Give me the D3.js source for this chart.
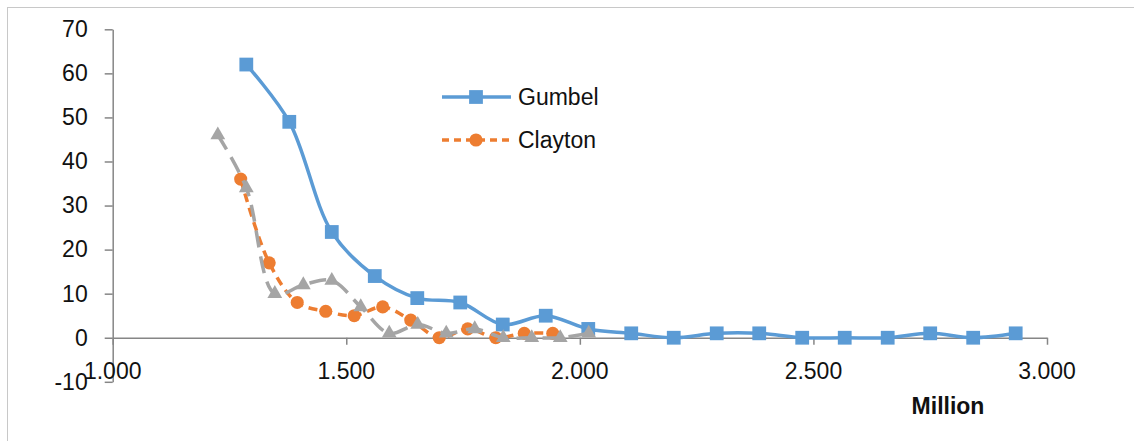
<!DOCTYPE html>
<html>
<head>
<meta charset="utf-8">
<script src="https://cdn.jsdelivr.net/npm/d3@7"></script>
<style>
  html, body { margin: 0; padding: 0; background: #fff; }
  svg { display: block; }
  text { font-family: "Liberation Sans", Arial, sans-serif; }
</style>
</head>
<body>
<svg id="chart" width="1134" height="441"></svg>
<script>
// ---- data ----
const gumbelX = [1.286, 1.378, 1.469, 1.561, 1.652, 1.744, 1.835, 1.927, 2.018, 2.110,
                 2.201, 2.293, 2.384, 2.476, 2.567, 2.659, 2.750, 2.842, 2.933];
const gumbelY = [62, 49, 24, 14, 9, 8, 3, 5, 2, 1, 0, 1, 1, 0, 0, 0, 1, 0, 1];

const claytonX = [1.274, 1.335, 1.395, 1.456, 1.517, 1.578, 1.638, 1.699, 1.760, 1.820, 1.881, 1.942];
const claytonY = [36, 17, 8, 6, 5, 7, 4, 0, 2, 0, 1, 1];

const thirdX = [1.225, 1.286, 1.347, 1.408, 1.469, 1.531, 1.592, 1.653, 1.714, 1.775, 1.836, 1.897, 1.958, 2.019];
const thirdY = [46, 34, 10, 12, 13, 7, 1, 3, 1, 2, 0, 0, 0, 1];

const xTicks = [1.0, 1.5, 2.0, 2.5, 3.0];
const xTickLabels = ["1.000", "1.500", "2.000", "2.500", "3.000"];
const yTicks = [-10, 0, 10, 20, 30, 40, 50, 60, 70];
const yTickLabels = ["-10", "0", "10", "20", "30", "40", "50", "60", "70"];
const xTitle = "Million";
const legendNames = ["Gumbel", "Clayton"];

// ---- drawing ----
const svg = d3.select("#chart");
const FONT = 23;
const axisColor = "#868686";

// chart border (right/bottom off-canvas)
svg.append("rect").attr("x", 7.5).attr("y", 7.5).attr("width", 1200).attr("height", 500)
  .attr("fill", "none").attr("stroke", "#c8c8c8").attr("stroke-width", 1);

const x = d3.scaleLinear().domain([1, 3]).range([112.7, 1047]);
const y = d3.scaleLinear().domain([-10, 70]).range([381.8, 29.3]);

// y axis
const yAxis = svg.append("g").attr("transform", `translate(${x(1)},0)`)
  .call(d3.axisLeft(y).tickValues(yTicks).tickSize(8).tickPadding(17).tickSizeOuter(0)
    .tickFormat((d, i) => yTickLabels[i]));
yAxis.select(".domain").attr("stroke", axisColor).attr("stroke-width", 1.5);
yAxis.selectAll(".tick line").attr("stroke", axisColor).attr("stroke-width", 1.5);
yAxis.selectAll(".tick text").attr("font-size", FONT).attr("fill", "#111")
  .attr("font-family", "Liberation Sans, Arial, sans-serif");

// x axis at y = 0
const xAxis = svg.append("g").attr("transform", `translate(0,${y(0)})`)
  .call(d3.axisBottom(x).tickValues(xTicks).tickSize(7).tickSizeOuter(0).tickFormat(""));
xAxis.select(".domain").attr("stroke", axisColor).attr("stroke-width", 1.5);
xAxis.selectAll(".tick line").attr("stroke", axisColor).attr("stroke-width", 1.5);

// x tick labels at low position
svg.append("g").selectAll("text").data(xTicks).join("text")
  .attr("x", d => x(d)).attr("y", 379)
  .attr("text-anchor", "middle").attr("font-size", FONT).attr("fill", "#111")
  .text((d, i) => xTickLabels[i]);

// x title
svg.append("text").attr("x", 948).attr("y", 414).attr("text-anchor", "middle")
  .attr("font-size", FONT).attr("font-weight", "bold").attr("fill", "#111").text(xTitle);

const curve = d3.curveCatmullRom.alpha(0.5);
const line = d3.line().x(d => x(d[0])).y(d => y(d[1])).curve(curve);

const series = [
  { xs: gumbelX, ys: gumbelY, color: "#5B9BD5", dash: null, sym: d3.symbolSquare, size: 190 },
  { xs: claytonX, ys: claytonY, color: "#ED7D31", dash: "9,6", sym: d3.symbolCircle, size: 135 },
  { xs: thirdX, ys: thirdY, color: "#A5A5A5", dash: "17,9", sym: d3.symbolTriangle, size: 95 }
];

series.forEach(s => {
  const pts = s.xs.map((v, i) => [v, s.ys[i]]);
  svg.append("path").datum(pts).attr("d", line)
    .attr("fill", "none").attr("stroke", s.color).attr("stroke-width", 3.5)
    .attr("stroke-dasharray", s.dash);
  svg.append("g").selectAll("path").data(pts).join("path")
    .attr("transform", d => `translate(${x(d[0])},${y(d[1])})`)
    .attr("d", d3.symbol().type(s.sym).size(s.size))
    .attr("fill", s.color);
});

// legend
const legendY = [97, 140];
legendNames.forEach((name, i) => {
  const s = series[i];
  const g = svg.append("g");
  g.append("line").attr("x1", 442).attr("x2", 511).attr("y1", legendY[i]).attr("y2", legendY[i])
    .attr("stroke", s.color).attr("stroke-width", 3.5)
    .attr("stroke-dasharray", i === 1 ? "7,5" : null);
  g.append("path").attr("transform", `translate(476,${legendY[i]})`)
    .attr("d", d3.symbol().type(s.sym).size(s.size)).attr("fill", s.color);
  g.append("text").attr("x", 518).attr("y", legendY[i]).attr("dy", "0.36em")
    .attr("font-size", FONT).attr("fill", "#111").text(name);
});
</script>
</body>
</html>
